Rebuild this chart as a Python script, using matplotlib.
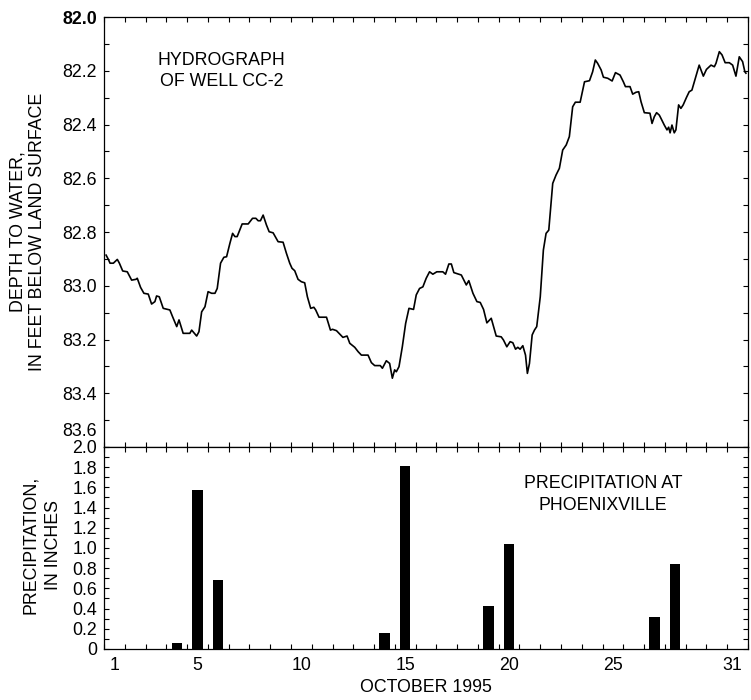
import matplotlib.pyplot as plt
from matplotlib.ticker import MultipleLocator


plt.rcParams["font.family"] = ["Liberation Sans", "DejaVu Sans"]
plt.rcParams["font.size"] = 12.8

# well CC-2 record: time in days of October 1995, depth in feet
dias = [
    1.10, 1.21, 1.29, 1.45, 1.64, 1.74, 1.90, 2.12, 2.33, 2.54, 2.60, 2.76,
    2.92, 3.13, 3.29, 3.45, 3.53, 3.66, 3.85, 4.17, 4.30, 4.50, 4.61, 4.81,
    5.13, 5.22, 5.38, 5.46, 5.57, 5.70, 5.86, 6.01, 6.18, 6.34, 6.45, 6.61,
    6.77, 6.90, 7.06, 7.19, 7.30, 7.41, 7.65, 7.94, 8.15, 8.31, 8.42, 8.53,
    8.66, 8.82, 8.95, 9.14, 9.38, 9.62, 9.78, 9.94, 10.05, 10.18, 10.34,
    10.50, 10.66, 10.79, 10.95, 11.10, 11.19, 11.35, 11.71, 11.90, 12.00,
    12.19, 12.35, 12.50, 12.70, 12.83, 13.07, 13.23, 13.39, 13.71, 13.87,
    14.03, 14.30, 14.40, 14.59, 14.75, 14.88, 14.99, 15.07, 15.20, 15.36,
    15.52, 15.68, 15.90, 16.03, 16.19, 16.35, 16.51, 16.67, 16.83, 17.02,
    17.31, 17.44, 17.60, 17.72, 17.84, 17.96, 18.20, 18.44, 18.56, 18.76,
    18.95, 19.11, 19.27, 19.43, 19.64, 19.88, 20.12, 20.23, 20.39, 20.55,
    20.68, 20.81, 20.92, 21.03, 21.16, 21.29, 21.38, 21.48, 21.61, 21.72,
    21.83, 22.00, 22.15, 22.28, 22.41, 22.60, 22.76, 22.92, 23.08, 23.25,
    23.40, 23.56, 23.69, 23.92, 24.13, 24.37, 24.52, 24.65, 24.76, 24.93,
    25.04, 25.25, 25.46, 25.62, 25.84, 26.00, 26.10, 26.32, 26.45, 26.61,
    26.74, 26.85, 27.01, 27.28, 27.38, 27.49, 27.60, 27.73, 27.81, 27.97,
    28.10, 28.18, 28.25, 28.34, 28.45, 28.53, 28.66, 28.77, 28.88, 29.04,
    29.17, 29.30, 29.49, 29.65, 29.85, 30.00, 30.22, 30.38, 30.46, 30.62,
    30.75, 30.90, 31.10, 31.26, 31.42, 31.58, 31.74, 31.85, 31.90,
]
profundidad = [
    82.886, 82.902, 82.916, 82.916, 82.902, 82.916, 82.945, 82.948, 82.979,
    82.976, 82.972, 83.006, 83.028, 83.031, 83.068, 83.059, 83.038, 83.041,
    83.084, 83.090, 83.115, 83.152, 83.127, 83.177, 83.177, 83.165, 83.180,
    83.187, 83.171, 83.097, 83.078, 83.022, 83.028, 83.028, 83.010, 82.916,
    82.894, 82.892, 82.842, 82.805, 82.817, 82.817, 82.770, 82.770, 82.749,
    82.749, 82.758, 82.758, 82.737, 82.774, 82.799, 82.803, 82.836, 82.838,
    82.879, 82.916, 82.935, 82.944, 82.976, 82.985, 82.989, 83.041, 83.084,
    83.080, 83.090, 83.117, 83.117, 83.165, 83.162, 83.167, 83.180, 83.192,
    83.187, 83.214, 83.229, 83.245, 83.258, 83.258, 83.286, 83.297, 83.297,
    83.307, 83.279, 83.289, 83.344, 83.313, 83.320, 83.301, 83.227, 83.140,
    83.084, 83.088, 83.034, 83.010, 83.004, 82.972, 82.948, 82.957, 82.948,
    82.948, 82.957, 82.919, 82.919, 82.951, 82.954, 82.960, 82.997, 82.981,
    83.028, 83.059, 83.062, 83.088, 83.138, 83.121, 83.187, 83.190, 83.202,
    83.227, 83.208, 83.212, 83.236, 83.229, 83.236, 83.223, 83.258, 83.326,
    83.289, 83.183, 83.165, 83.152, 83.041, 82.867, 82.805, 82.793, 82.619,
    82.588, 82.563, 82.495, 82.476, 82.445, 82.334, 82.317, 82.317, 82.241,
    82.237, 82.204, 82.160, 82.172, 82.197, 82.224, 82.228, 82.238, 82.207,
    82.216, 82.241, 82.259, 82.259, 82.287, 82.280, 82.278, 82.315, 82.356,
    82.358, 82.396, 82.371, 82.356, 82.365, 82.377, 82.402, 82.420, 82.410,
    82.431, 82.402, 82.431, 82.420, 82.327, 82.340, 82.327, 82.299, 82.278,
    82.272, 82.222, 82.179, 82.220, 82.195, 82.179, 82.185, 82.172, 82.129,
    82.141, 82.170, 82.170, 82.179, 82.220, 82.148, 82.166, 82.204, 82.209,
]

# daily precipitation at Phoenixville, inches
dias_lluvia = [4, 5, 6, 14, 15, 19, 20, 27, 28]
lluvia = [0.06, 1.57, 0.68, 0.16, 1.81, 0.43, 1.04, 0.32, 0.84]

etiquetas_dia = ["1", "5", "10", "15", "20", "25", "31"]
pos_etiquetas = [1.5, 5.5, 10.5, 15.5, 20.5, 25.5, 31.25]

niveles = [82.0, 82.2, 82.4, 82.6, 82.8, 83.0, 83.2, 83.4, 83.6]
niveles_txt = ["82.0", "82.2", "82.4", "82.6", "82.8", "83.0", "83.2", "83.4", ""]

lluvia_ticks = [0, 0.2, 0.4, 0.6, 0.8, 1.0, 1.2, 1.4, 1.6, 1.8, 2.0]
lluvia_txt = ["0", "0.2", "0.4", "0.6", "0.8", "1.0", "1.2", "1.4", "1.6", "1.8", "2.0"]


fig = plt.figure(figsize=(7.51, 7.0), dpi=100)
ax1 = fig.add_axes([0.1385, 0.3614, 0.8575, 0.6143])
ax2 = fig.add_axes([0.1385, 0.0729, 0.8575, 0.2886])

for ax in (ax1, ax2):
    for s in ax.spines.values():
        s.set_linewidth(0.9)
    ax.set_xlim(1, 32)
    ax.tick_params(which="both", direction="in", top=True, right=True,
                   length=3.5, width=0.8, pad=5)

# hydrograph
ax1.plot(dias, profundidad, color="black", lw=1.2)
ax1.set_ylim(83.6, 82.0)
ax1.set_yticks(niveles, niveles_txt)
ax1.yaxis.set_minor_locator(MultipleLocator(0.1))
ax1.set_xticks(range(1, 33))
ax1.tick_params(axis="x", labelbottom=False)
ax1.get_yticklabels()[0].set_fontweight("bold")
ax1.annotate("83.6", xy=(0, 83.6), xycoords=("axes fraction", "data"),
             xytext=(-5, 11), textcoords="offset points",
             ha="right", va="center")
ax1.text(0.183, 0.874, "HYDROGRAPH\nOF WELL CC-2", transform=ax1.transAxes,
         ha="center", va="center", multialignment="center", linespacing=1.35)

# precipitation
ax2.bar([d + 0.5 for d in dias_lluvia], lluvia, width=0.5, color="black")
ax2.set_ylim(0, 2.0)
ax2.set_yticks(lluvia_ticks, lluvia_txt)
ax2.yaxis.set_minor_locator(MultipleLocator(0.1))
ax2.set_xticks(range(1, 33), minor=True)
ax2.set_xticks(pos_etiquetas, etiquetas_dia)
ax2.tick_params(axis="x", which="major", length=0, pad=6)
ax2.text(0.775, 0.764, "PRECIPITATION AT\nPHOENIXVILLE", transform=ax2.transAxes,
         ha="center", va="center", multialignment="center", linespacing=1.35)

fig.text(0.0373, 1 - 232 / 700, "DEPTH TO WATER,\nIN FEET BELOW LAND SURFACE",
         rotation=90, ha="center", va="center", multialignment="center",
         linespacing=1.2)
fig.text(0.056, 1 - 545 / 700, "PRECIPITATION,\nIN INCHES",
         rotation=90, ha="center", va="center", multialignment="center",
         linespacing=1.45)
fig.text(426 / 751, 1 - 688 / 700, "OCTOBER 1995", ha="center", va="center")

fig.savefig("out.png", dpi=100)
